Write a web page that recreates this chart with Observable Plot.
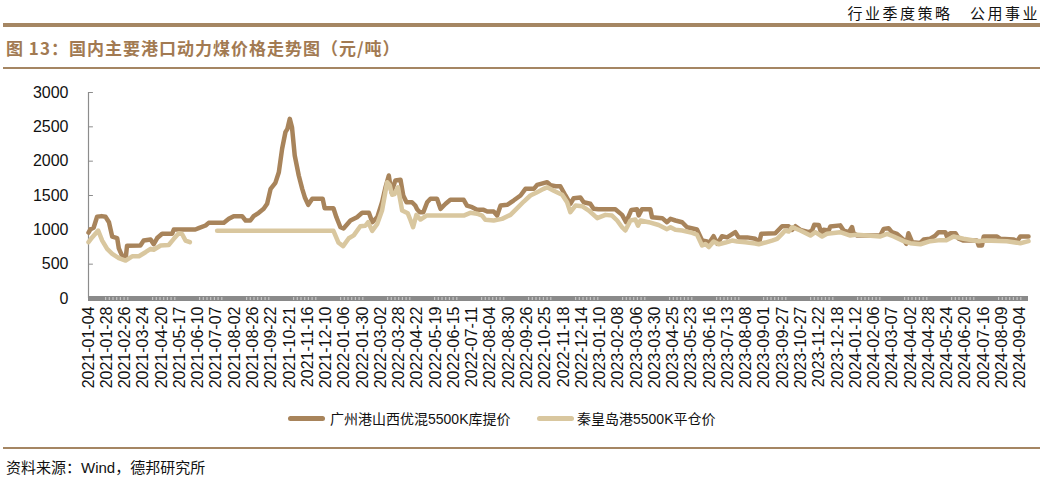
<!DOCTYPE html>
<html>
<head>
<meta charset="utf-8">
<script src="https://cdn.jsdelivr.net/npm/d3@7"></script>
<script src="https://cdn.jsdelivr.net/npm/@observablehq/plot@0.6"></script>
<style>
  html, body { margin: 0; padding: 0; background: #fff; }
  #page { position: relative; width: 1064px; height: 489px; overflow: hidden; font-family: "Liberation Sans", Arial, "Noto Sans CJK SC", sans-serif; }
  .abs { position: absolute; white-space: nowrap; }
  #hdr { right: 24px; top: 2px; font-family: "Noto Sans CJK SC"; font-size: 15px; letter-spacing: 2.5px; color: #111; }
  #rule1 { left: 3px; top: 23px; width: 1037px; height: 4px; background: #a58663; }
  #title { left: 6px; top: 35px; font-family: "Noto Sans CJK SC"; font-weight: bold; font-size: 17px; letter-spacing: 1px; color: #a27a52; }
  #rule2 { left: 3px; top: 67px; width: 1037px; height: 2px; background: #a58663; }
  #chart { left: 0; top: 80px; }
  .sw { height: 5px; border-radius: 3px; top: 416px; }
  .lg { top: 408px; font-family: "Liberation Sans", Arial, "Noto Sans CJK SC"; font-size: 14px; color: #111; }
  #rule3 { left: 3px; top: 447px; width: 1037px; height: 2px; background: #a58663; }
  #foot { left: 6px; top: 456px; font-family: "Liberation Sans", Arial, "Noto Sans CJK SC"; font-size: 15px; color: #111; }
</style>
</head>
<body>
<div id="page">
  <div id="hdr" class="abs">行业季度策略　公用事业</div>
  <div id="rule1" class="abs"></div>
  <div id="title" class="abs">图 13：国内主要港口动力煤价格走势图（元/吨）</div>
  <div id="rule2" class="abs"></div>
  <div id="chart" class="abs"></div>
  <div id="legend"></div>
  <div id="rule3" class="abs"></div>
  <div id="foot" class="abs">资料来源：Wind，德邦研究所</div>
</div>
<script>
// Category tick labels (x axis), equally spaced categories
const xLabels = ["2021-01-04","2021-01-28","2021-02-26","2021-03-24","2021-04-20","2021-05-17","2021-06-10","2021-07-07","2021-08-02","2021-08-26","2021-09-22","2021-10-21","2021-11-16","2021-12-10","2022-01-06","2022-01-30","2022-03-02","2022-03-28","2022-04-22","2022-05-19","2022-06-15","2022-07-11","2022-08-04","2022-08-30","2022-09-26","2022-10-25","2022-11-18","2022-12-14","2023-01-10","2023-02-08","2023-03-06","2023-03-30","2023-04-25","2023-05-23","2023-06-16","2023-07-13","2023-08-08","2023-09-01","2023-09-27","2023-10-27","2023-11-22","2023-12-18","2024-01-12","2024-02-06","2024-03-07","2024-04-02","2024-04-28","2024-05-24","2024-06-20","2024-07-16","2024-08-09","2024-09-04"];
const yTicks = [0, 500, 1000, 1500, 2000, 2500, 3000];
const seriesNames = ["广州港山西优混5500K库提价", "秦皇岛港5500K平仓价"];
const lastPos = 51.46; // last data point, in label-interval units

// [position in label-interval units, price 元/吨]
const gz = [[0,960],[0.11,1010],[0.28,1030],[0.47,1190],[0.72,1200],[0.93,1190],[1.12,1110],[1.30,900],[1.57,880],[1.66,730],[1.81,640],[1.93,610],[2.05,620],[2.11,770],[2.84,772],[3.02,844],[3.40,860],[3.57,790],[3.76,880],[4.03,942],[4.58,942],[4.67,1005],[5.85,1005],[6.03,1024],[6.41,1063],[6.58,1102],[7.41,1102],[7.68,1160],[7.95,1199],[8.41,1199],[8.60,1136],[8.86,1136],[9.04,1199],[9.32,1248],[9.59,1306],[9.78,1379],[9.97,1597],[10.23,1684],[10.42,1839],[10.60,2180],[10.78,2422],[10.89,2470],[11.02,2616],[11.14,2494],[11.29,2082],[11.51,1791],[11.70,1597],[11.84,1475],[12.03,1364],[12.25,1452],[12.82,1452],[12.93,1315],[13.41,1315],[13.57,1184],[13.79,1038],[13.96,1020],[14.34,1136],[14.70,1184],[14.98,1248],[15.35,1248],[15.54,1111],[15.81,1184],[16.07,1402],[16.26,1620],[16.44,1791],[16.58,1548],[16.80,1718],[17.08,1730],[17.23,1500],[17.41,1402],[17.71,1402],[17.89,1354],[17.99,1300],[18.14,1257],[18.33,1257],[18.54,1402],[18.72,1452],[19.08,1452],[19.27,1306],[19.55,1380],[19.81,1437],[20.54,1437],[20.72,1354],[21.00,1330],[21.27,1291],[21.63,1291],[21.83,1267],[22.18,1267],[22.37,1208],[22.56,1354],[22.92,1365],[23.27,1427],[23.65,1500],[23.92,1597],[24.38,1597],[24.56,1655],[25.11,1694],[25.29,1650],[25.57,1635],[25.83,1635],[26.11,1500],[26.38,1379],[26.56,1460],[26.93,1470],[27.11,1402],[27.47,1380],[27.65,1306],[27.91,1300],[28.84,1300],[29.21,1218],[29.43,1111],[29.72,1290],[30.03,1300],[30.12,1210],[30.30,1300],[30.76,1300],[30.85,1184],[31.41,1170],[31.67,1111],[31.86,1160],[32.13,1136],[32.50,1111],[32.77,1038],[33.31,1005],[33.59,844],[33.86,830],[33.96,800],[34.22,907],[34.42,796],[34.68,907],[34.96,890],[35.41,966],[35.59,890],[36.06,890],[36.50,869],[36.72,820],[36.83,942],[37.60,950],[37.97,1053],[38.33,1053],[38.52,1000],[38.70,1053],[38.97,1000],[39.43,966],[39.61,990],[39.73,1073],[39.98,1070],[40.16,917],[40.24,1000],[40.52,990],[40.61,1048],[41.15,1065],[41.34,990],[41.62,966],[41.80,1040],[41.88,950],[42.08,917],[43.35,917],[43.53,1014],[43.80,1024],[43.98,966],[44.26,942],[44.63,854],[44.77,796],[44.89,950],[45.09,820],[45.54,810],[45.72,860],[46.08,870],[46.36,917],[46.54,966],[46.91,966],[46.99,903],[47.18,950],[47.46,950],[47.64,870],[47.90,844],[48.64,844],[48.73,772],[48.91,772],[49.01,903],[49.74,903],[49.92,870],[50.65,860],[50.83,830],[51.01,903],[51.46,903]];

const qhd = [[0,820],[0.21,893],[0.53,990],[0.75,844],[1.02,723],[1.30,650],[1.66,587],[2.03,553],[2.39,615],[2.76,615],[3.12,674],[3.40,723],[3.57,710],[3.95,772],[4.39,780],[4.67,869],[4.94,951],[5.12,940],[5.31,844],[5.55,820],[6.3,null],[7.04,985],[13.41,985],[13.69,811],[13.94,762],[14.25,878],[14.52,920],[14.88,1053],[15.16,1060],[15.31,1111],[15.53,985],[15.81,1087],[16.07,1281],[16.35,1694],[16.49,1650],[16.62,1510],[16.75,1520],[16.94,1620],[17.17,1281],[17.48,1240],[17.63,1140],[17.77,1038],[17.95,1218],[18.17,1150],[18.50,1208],[20.54,1208],[20.90,1248],[21.27,1235],[21.55,1208],[21.73,1146],[22.18,1136],[22.64,1160],[23.10,1218],[23.47,1315],[23.83,1412],[24.19,1500],[24.56,1548],[24.92,1597],[25.11,1620],[25.47,1570],[25.93,1510],[26.20,1402],[26.38,1257],[26.66,1354],[27.02,1345],[27.39,1281],[27.85,1170],[28.30,1218],[28.66,1208],[28.94,1136],[29.21,1038],[29.39,990],[29.67,1136],[29.94,1150],[30.08,1060],[30.22,1136],[30.67,1111],[31.21,1070],[31.67,1010],[31.86,1038],[32.13,1000],[32.50,990],[33.05,956],[33.31,930],[33.59,772],[33.77,795],[33.96,750],[34.22,830],[34.50,790],[34.87,815],[35.23,844],[35.51,830],[35.96,820],[36.50,800],[36.69,790],[37.05,815],[37.42,844],[37.70,869],[37.97,942],[38.14,990],[38.33,975],[38.52,1038],[38.70,1020],[38.97,990],[39.52,917],[39.79,966],[40.16,903],[40.43,942],[41.15,966],[41.71,917],[42.08,930],[43.35,903],[43.72,942],[44.08,903],[44.63,835],[44.99,805],[45.54,790],[46.08,835],[46.63,850],[46.99,850],[47.36,903],[47.90,870],[48.73,835],[49.01,844],[50.28,835],[51.01,805],[51.46,835]];

const colors = ["#a8845b", "#d9c79f"];

const tickIdx = xLabels.map((_, i) => i);
const plot = Plot.plot({
  width: 1064,
  height: 330,
  marginLeft: 88,
  marginRight: 36,
  marginTop: 12,
  marginBottom: 112,
  style: { fontFamily: "'Liberation Sans', Arial, sans-serif", fontSize: "16px", color: "#111", background: "transparent" },
  x: { type: "linear", domain: [0, lastPos] },
  y: { domain: [0, 3000] },
  marks: [
    Plot.ruleX([0], { stroke: "#8c8c8c", strokeWidth: 1.2 }),
    Plot.vector(yTicks, { x: 0, y: d => d, rotate: 90, length: 4, anchor: "start", stroke: "#8c8c8c", strokeWidth: 1,
      shape: { draw(ctx, l) { ctx.moveTo(0, 0); ctx.lineTo(0, -l); } } }),
    Plot.axisY({ ticks: yTicks, tickSize: 0, tickPadding: 20, tickFormat: d => String(d), fontSize: 16, label: null }),
    Plot.axisX({ ticks: tickIdx, tickFormat: i => xLabels[i], tickRotate: -90, tickSize: 0, tickPadding: 8, fontSize: 16, label: null }),
    Plot.ruleY([0], { stroke: "#8a8a8a", strokeWidth: 5 }),
    Plot.ruleY([0], { stroke: "#c4c4c4", strokeWidth: 3,
      strokeDasharray: "0,17,1.2,2.5,1.2,2.5,1.2,2.5,1.2,2.5,1.2,2.5,1.2,2.5,1.2,6.6" }),
    Plot.line(gz, { x: d => d[0], y: d => d[1], stroke: colors[0], strokeWidth: 4.5, strokeLinejoin: "round", strokeLinecap: "round" }),
    Plot.line(qhd, { x: d => d[0], y: d => d[1], stroke: colors[1], strokeWidth: 4.5, strokeLinejoin: "round", strokeLinecap: "round" })
  ]
});
document.getElementById("chart").appendChild(plot);

// legend
const legend = document.getElementById("legend");
const swX = [288, 537];
const txX = [330, 577];
seriesNames.forEach((name, i) => {
  const sw = document.createElement("div");
  sw.className = "abs sw";
  sw.style.left = swX[i] + "px";
  sw.style.width = "37px";
  sw.style.background = colors[i];
  legend.appendChild(sw);
  const t = document.createElement("div");
  t.className = "abs lg";
  t.style.left = txX[i] + "px";
  t.textContent = name;
  legend.appendChild(t);
});
</script>
</body>
</html>
